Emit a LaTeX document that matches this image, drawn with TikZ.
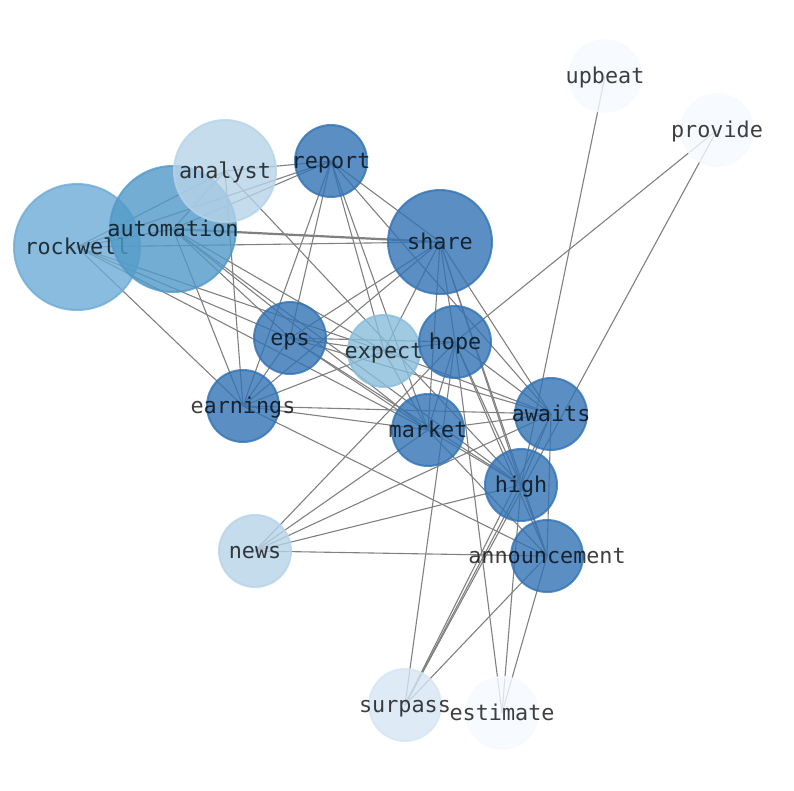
\documentclass[tikz,border=0pt]{standalone}
\usepackage{fontspec}
\newfontfamily\wordfont{DejaVu Sans Mono}
\usetikzlibrary{backgrounds}

\definecolor{deepblue}{RGB}{50,115,180}
\definecolor{midblue}{RGB}{81,153,200}
\definecolor{skyblue}{RGB}{108,171,214}
\definecolor{paleblue}{RGB}{136,189,219}
\definecolor{mistblue}{RGB}{182,211,232}
\definecolor{iceblue}{RGB}{214,229,244}
\definecolor{snowblue}{RGB}{245,250,255}
\definecolor{linkgray}{RGB}{128,128,128}

\tikzset{
  word/.style={circle, inner sep=0pt, line width=2pt, minimum size=72pt,
               fill opacity=0.8, draw opacity=0.8, text opacity=0.75,
               text height=17pt, text depth=2.6pt,
               font=\wordfont\fontsize{21.8}{26}\selectfont},
  link/.style={draw=linkgray, line width=1.1pt},
}

\begin{document}
\begin{tikzpicture}[x=1pt, y=-1pt]
  \useasboundingbox (0,0) rectangle (794,790);

  \node (rockwell)   [word, fill=skyblue, draw=skyblue, minimum size=126pt]
                     at (77,247)  {\makebox[0pt]{rockwell}};
  \node (automation) [word, fill=midblue, draw=midblue, minimum size=126pt]
                     at (173,229) {\makebox[0pt]{automation}};
  \node (analyst)    [word, fill=mistblue, draw=mistblue, minimum size=102pt]
                     at (225,171) {\makebox[0pt]{analyst}};
  \node (report)     [word, fill=deepblue, draw=deepblue]
                     at (331,161) {\makebox[0pt]{report}};
  \node (share)      [word, fill=deepblue, draw=deepblue, minimum size=104pt]
                     at (440,242) {\makebox[0pt]{share}};
  \node (eps)        [word, fill=deepblue, draw=deepblue]
                     at (290,338) {\makebox[0pt]{eps}};
  \node (expect)     [word, fill=paleblue, draw=paleblue]
                     at (384,351) {\makebox[0pt]{expect}};
  \node (hope)       [word, fill=deepblue, draw=deepblue]
                     at (455,342) {\makebox[0pt]{hope}};
  \node (earnings)   [word, fill=deepblue, draw=deepblue]
                     at (243,406) {\makebox[0pt]{earnings}};
  \node (market)     [word, fill=deepblue, draw=deepblue]
                     at (428,430) {\makebox[0pt]{market}};
  \node (awaits)     [word, fill=deepblue, draw=deepblue]
                     at (551,414) {\makebox[0pt]{awaits}};
  \node (high)       [word, fill=deepblue, draw=deepblue]
                     at (521,485) {\makebox[0pt]{high}};
  \node (announce)   [word, fill=deepblue, draw=deepblue]
                     at (547,556) {\makebox[0pt]{announcement}};
  \node (news)       [word, fill=mistblue, draw=mistblue]
                     at (255,551) {\makebox[0pt]{news}};
  \node (surpass)    [word, fill=iceblue, draw=iceblue]
                     at (405,705) {\makebox[0pt]{surpass}};
  \node (estimate)   [word, fill=snowblue, draw=snowblue]
                     at (502,713) {\makebox[0pt]{estimate}};
  \node (upbeat)     [word, fill=snowblue, draw=snowblue]
                     at (605,76)  {\makebox[0pt]{upbeat}};
  \node (provide)    [word, fill=snowblue, draw=snowblue]
                     at (717,130) {\makebox[0pt]{provide}};

  \begin{pgfonlayer}{background}
    % rockwell
    \draw[link] (rockwell.center) -- (automation.center);
    \draw[link] (rockwell.center) -- (analyst.center);
    \draw[link] (rockwell.center) -- (report.center);
    \draw[link] (rockwell.center) -- (share.center);
    \draw[link] (rockwell.center) -- (eps.center);
    \draw[link] (rockwell.center) -- (expect.center);
    \draw[link] (rockwell.center) -- (market.center);
    \draw[link] (rockwell.center) -- (earnings.center);
    % automation
    \draw[link] (automation.center) -- (analyst.center);
    \draw[link] (automation.center) -- (report.center);
    \draw[link, line width=2.2pt] (automation.center) -- (share.center);
    \draw[link] (automation.center) -- (eps.center);
    \draw[link] (automation.center) -- (expect.center);
    \draw[link] (automation.center) -- (market.center);
    \draw[link] (automation.center) -- (earnings.center);
    \draw[link] (automation.center) -- (high.center);
    % analyst, report
    \draw[link] (analyst.center) -- (report.center);
    \draw[link] (analyst.center) -- (earnings.center);
    \draw[link] (analyst.center) -- (high.center);
    \draw[link] (report.center) -- (share.center);
    \draw[link] (report.center) -- (eps.center);
    \draw[link] (report.center) -- (earnings.center);
    \draw[link] (report.center) -- (expect.center);
    \draw[link] (report.center) -- (market.center);
    \draw[link] (report.center) -- (awaits.center);
    % share
    \draw[link] (share.center) -- (eps.center);
    \draw[link] (share.center) -- (expect.center);
    \draw[link] (share.center) -- (hope.center);
    \draw[link] (share.center) -- (market.center);
    \draw[link] (share.center) -- (awaits.center);
    \draw[link] (share.center) -- (high.center);
    \draw[link] (share.center) -- (announce.center);
    \draw[link] (share.center) -- (earnings.center);
    % eps, expect
    \draw[link] (eps.center) -- (earnings.center);
    \draw[link] (eps.center) -- (expect.center);
    \draw[link] (eps.center) -- (hope.center);
    \draw[link] (eps.center) -- (market.center);
    \draw[link] (eps.center) -- (awaits.center);
    \draw[link] (eps.center) -- (high.center);
    \draw[link] (expect.center) -- (hope.center);
    \draw[link] (expect.center) -- (awaits.center);
    \draw[link] (expect.center) -- (market.center);
    \draw[link] (expect.center) -- (earnings.center);
    % hope
    \draw[link] (hope.center) -- (market.center);
    \draw[link] (hope.center) -- (awaits.center);
    \draw[link] (hope.center) -- (high.center);
    \draw[link] (hope.center) -- (announce.center);
    \draw[link] (hope.center) -- (estimate.center);
    \draw[link] (hope.center) -- (surpass.center);
    \draw[link] (hope.center) -- (news.center);
    \draw[link] (hope.center) -- (provide.center);
    % earnings, market, awaits
    \draw[link] (earnings.center) -- (market.center);
    \draw[link] (earnings.center) -- (awaits.center);
    \draw[link] (earnings.center) -- (announce.center);
    \draw[link] (market.center) -- (awaits.center);
    \draw[link] (market.center) -- (high.center);
    \draw[link] (market.center) -- (announce.center);
    \draw[link] (market.center) -- (news.center);
    \draw[link] (awaits.center) -- (high.center);
    \draw[link] (awaits.center) -- (announce.center);
    \draw[link] (awaits.center) -- (news.center);
    \draw[link] (awaits.center) -- (surpass.center);
    % high, announcement, surpass
    \draw[link] (high.center) -- (announce.center);
    \draw[link] (high.center) -- (news.center);
    \draw[link] (high.center) -- (surpass.center);
    \draw[link] (high.center) -- (estimate.center);
    \draw[link] (high.center) -- (upbeat.center);
    \draw[link] (announce.center) -- (news.center);
    \draw[link] (announce.center) -- (surpass.center);
    \draw[link] (announce.center) -- (estimate.center);
    \draw[link] (surpass.center) -- (provide.center);
  \end{pgfonlayer}
\end{tikzpicture}
\end{document}
